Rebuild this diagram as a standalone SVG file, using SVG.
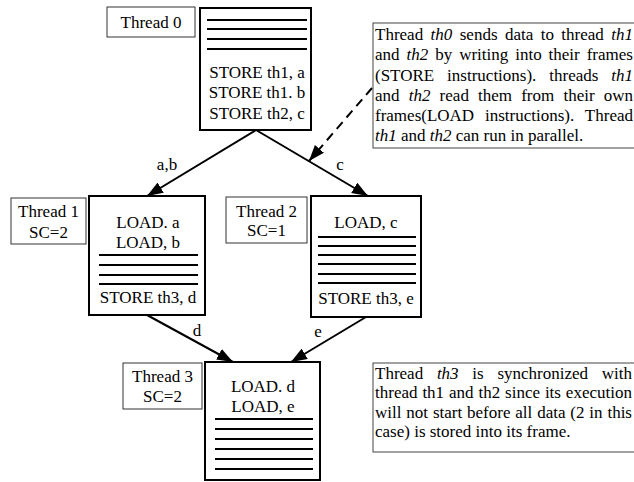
<svg xmlns="http://www.w3.org/2000/svg" width="634" height="482" viewBox="0 0 634 482">
  <style>
    text { font-family: "Liberation Serif", "Times New Roman", serif; font-size: 17px; fill: #000; }
    .c { text-anchor: middle; }
    .it { font-style: italic; }
    .frame { fill: #fff; stroke: #000; stroke-width: 2; }
    .label { fill: #fff; stroke: #333; stroke-width: 1; }
    .note { fill: #fff; stroke: #444; stroke-width: 1; }
    .slot { stroke: #000; stroke-width: 2; }
    .edge { stroke: #000; stroke-width: 2; fill: none; marker-end: url(#head); }
    .dash { stroke: #000; stroke-width: 2; fill: none; stroke-dasharray: 9 6; marker-end: url(#head); }
  </style>
  <defs>
    <marker id="head" viewBox="0 0 16 12" refX="16" refY="6" markerWidth="16" markerHeight="12" markerUnits="userSpaceOnUse" orient="auto">
      <path d="M0,0 L16,6 L0,12 Z" fill="#000"/>
    </marker>
  </defs>

  <rect width="634" height="482" fill="#fff"/>

  <!-- connectors -->
  <g id="connectors">
    <line class="edge" x1="256" y1="130" x2="147" y2="196"/>
    <line class="edge" x1="256" y1="130" x2="368" y2="196"/>
    <line class="edge" x1="147" y1="315" x2="233" y2="362"/>
    <line class="edge" x1="366" y1="317" x2="291" y2="362"/>
    <line class="dash" x1="372" y1="88" x2="309" y2="161"/>
    <text class="c" x="167" y="170">a,b</text>
    <text class="c" x="340" y="170">c</text>
    <text class="c" x="197" y="336">d</text>
    <text class="c" x="318" y="337">e</text>
  </g>

  <!-- thread 0 -->
  <g id="thread0">
    <rect class="label" x="107" y="7" width="88" height="30"/>
    <text class="c" x="151" y="28">Thread 0</text>
    <rect class="frame" x="200" y="8" width="111" height="122"/>
    <line class="slot" x1="207" y1="20" x2="307" y2="20"/>
    <line class="slot" x1="207" y1="29" x2="307" y2="29"/>
    <line class="slot" x1="207" y1="39" x2="307" y2="39"/>
    <line class="slot" x1="207" y1="49" x2="307" y2="49"/>
    <text class="c" x="257" y="78">STORE th1, a</text>
    <text class="c" x="257" y="98">STORE th1. b</text>
    <text class="c" x="257" y="119">STORE th2, c</text>
  </g>

  <!-- thread 1 -->
  <g id="thread1">
    <rect class="label" x="11" y="198" width="75" height="46"/>
    <text class="c" x="48.5" y="217">Thread 1</text>
    <text class="c" x="48.5" y="238">SC=2</text>
    <rect class="frame" x="89" y="196" width="116" height="119"/>
    <text class="c" x="148" y="228">LOAD. a</text>
    <text class="c" x="148" y="248">LOAD, b</text>
    <line class="slot" x1="99" y1="255" x2="198" y2="255"/>
    <line class="slot" x1="99" y1="265" x2="198" y2="265"/>
    <line class="slot" x1="99" y1="275" x2="198" y2="275"/>
    <line class="slot" x1="99" y1="284" x2="198" y2="284"/>
    <text class="c" x="148" y="303">STORE th3, d</text>
  </g>

  <!-- thread 2 -->
  <g id="thread2">
    <rect class="label" x="226" y="197" width="81" height="46"/>
    <text class="c" x="266.5" y="217">Thread 2</text>
    <text class="c" x="266.5" y="236">SC=1</text>
    <rect class="frame" x="311" y="196" width="110" height="121"/>
    <text class="c" x="366" y="228">LOAD, c</text>
    <line class="slot" x1="318" y1="237" x2="416" y2="237"/>
    <line class="slot" x1="318" y1="246" x2="416" y2="246"/>
    <line class="slot" x1="318" y1="255" x2="416" y2="255"/>
    <line class="slot" x1="318" y1="264" x2="416" y2="264"/>
    <line class="slot" x1="318" y1="274" x2="416" y2="274"/>
    <line class="slot" x1="318" y1="283" x2="416" y2="283"/>
    <text class="c" x="366" y="304">STORE th3, e</text>
  </g>

  <!-- thread 3 -->
  <g id="thread3">
    <rect class="label" x="123" y="363" width="79" height="46"/>
    <text class="c" x="162.5" y="382">Thread 3</text>
    <text class="c" x="162.5" y="402">SC=2</text>
    <rect class="frame" x="205" y="362" width="115" height="118"/>
    <text class="c" x="263" y="392">LOAD. d</text>
    <text class="c" x="263" y="412">LOAD, e</text>
    <line class="slot" x1="215" y1="419" x2="313" y2="419"/>
    <line class="slot" x1="215" y1="429" x2="313" y2="429"/>
    <line class="slot" x1="215" y1="439" x2="313" y2="439"/>
    <line class="slot" x1="215" y1="449" x2="313" y2="449"/>
    <line class="slot" x1="215" y1="459" x2="313" y2="459"/>
    <line class="slot" x1="215" y1="469" x2="313" y2="469"/>
  </g>

  <!-- note on data passing -->
  <g id="note-data">
    <rect class="note" x="373" y="23" width="275" height="125"/>
    <text x="375" y="40" word-spacing="3.18">Thread <tspan class="it">th0</tspan> sends data to thread <tspan class="it">th1</tspan></text>
    <text x="375" y="60" word-spacing="2.7">and <tspan class="it">th2</tspan> by writing into their frames</text>
    <text x="375" y="81" word-spacing="8.68">(STORE instructions). threads <tspan class="it">th1</tspan></text>
    <text x="375" y="101" word-spacing="4.92">and <tspan class="it">th2</tspan> read them from their own</text>
    <text x="375" y="121" word-spacing="6.65">frames(LOAD instructions). Thread</text>
    <text x="375" y="141"><tspan class="it">th1</tspan> and <tspan class="it">th2</tspan> can run in parallel.</text>
  </g>

  <!-- note on synchronization -->
  <g id="note-sync">
    <rect class="note" x="373" y="363" width="275" height="89"/>
    <text x="375" y="379" word-spacing="9.48">Thread <tspan class="it">th3</tspan> is synchronized with</text>
    <text x="375" y="398" word-spacing="0.65">thread th1 and th2 since its execution</text>
    <text x="375" y="418" word-spacing="0.61">will not start before all data (2 in this</text>
    <text x="375" y="437">case) is stored into its frame.</text>
  </g>
</svg>
